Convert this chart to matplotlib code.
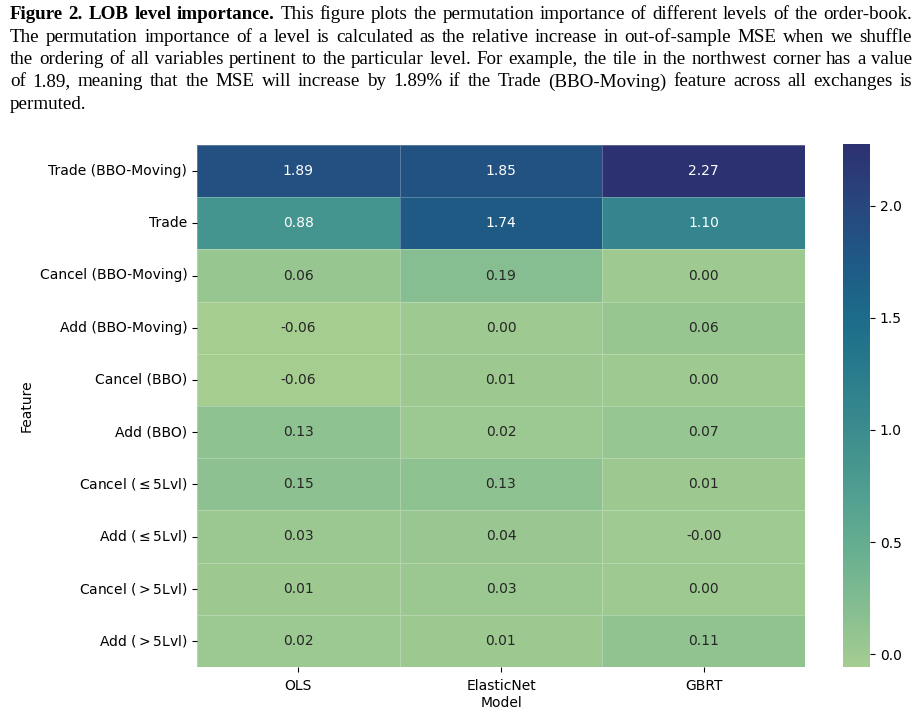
import numpy as np
import pandas as pd
import matplotlib
matplotlib.use("Agg")
import matplotlib.pyplot as plt
import seaborn as sns

features = ["Trade (BBO-Moving)", "Trade", "Cancel (BBO-Moving)", "Add (BBO-Moving)",
            "Cancel (BBO)", "Add (BBO)", r"Cancel ($\leq$5Lvl)", r"Add ($\leq$5Lvl)",
            r"Cancel ($>$5Lvl)", r"Add ($>$5Lvl)"]
models = ["OLS", "ElasticNet", "GBRT"]
ols = [1.89, 0.88, 0.06, -0.056, -0.056, 0.13, 0.15, 0.03, 0.01, 0.02]
enet = [1.85, 1.74, 0.19, 0.00, 0.01, 0.02, 0.13, 0.04, 0.03, 0.01]
gbrt = [2.274, 1.10, 0.00, 0.06, 0.00, 0.07, 0.01, -0.004, 0.00, 0.11]

caption_lines = [
    "Figure 2. LOB level importance. This figure plots the permutation importance of different levels of the order-book.",
    "The permutation importance of a level is calculated as the relative increase in out-of-sample MSE when we shuffle",
    "the ordering of all variables pertinent to the particular level. For example, the tile in the northwest corner has a value",
    "of 1.89, meaning that the MSE will increase by 1.89% if the Trade (BBO-Moving) feature across all exchanges is",
    "permuted.",
]
n_bold = 5  # first words of the caption set in bold

df = pd.DataFrame(dict(zip(models, [ols, enet, gbrt])), index=features)
df.index.name = "Feature"
df.columns.name = "Model"

W, H = 922, 710
fig = plt.figure(figsize=(W / 100, H / 100), dpi=100)
ax = fig.add_axes([197 / W, (H - 667) / H, (805 - 197) / W, (667 - 145) / H])
cax = fig.add_axes([843 / W, (H - 667) / H, 27 / W, (667 - 144) / H])

sns.heatmap(df, ax=ax, cbar_ax=cax, cmap="crest", annot=True, fmt=".2f",
            linewidths=0.5, linecolor=(1, 1, 1, 0.25), annot_kws={"size": 10})
ax.set_xlabel("Model", fontsize=10, labelpad=2)
ax.set_ylabel("Feature", fontsize=10)
ax.tick_params(axis="y", rotation=0, labelsize=10)
ax.tick_params(axis="x", labelsize=10, pad=5)
cax.tick_params(labelsize=10)

# justified caption, word by word
renderer = fig.canvas.get_renderer()
left, right = 10, 912
baselines = [19, 41.5, 64, 86.5, 109]
word_idx = 0
for li, line in enumerate(caption_lines):
    words = line.split(" ")
    texts = []
    for w in words:
        t = fig.text(0, 1 - baselines[li] / H, w, family="Liberation Serif", fontsize=13.7,
                     va="baseline", ha="left",
                     fontweight="bold" if word_idx < n_bold else "normal")
        texts.append(t)
        word_idx += 1
    widths = [t.get_window_extent(renderer).width for t in texts]
    if li < len(caption_lines) - 1 and len(words) > 1:
        gap = (right - left - sum(widths)) / (len(words) - 1)
    else:
        gap = 4.5
    x = left
    for t, wdt in zip(texts, widths):
        t.set_x(x / W)
        x += wdt + gap

fig.savefig("out.png", dpi=100)
